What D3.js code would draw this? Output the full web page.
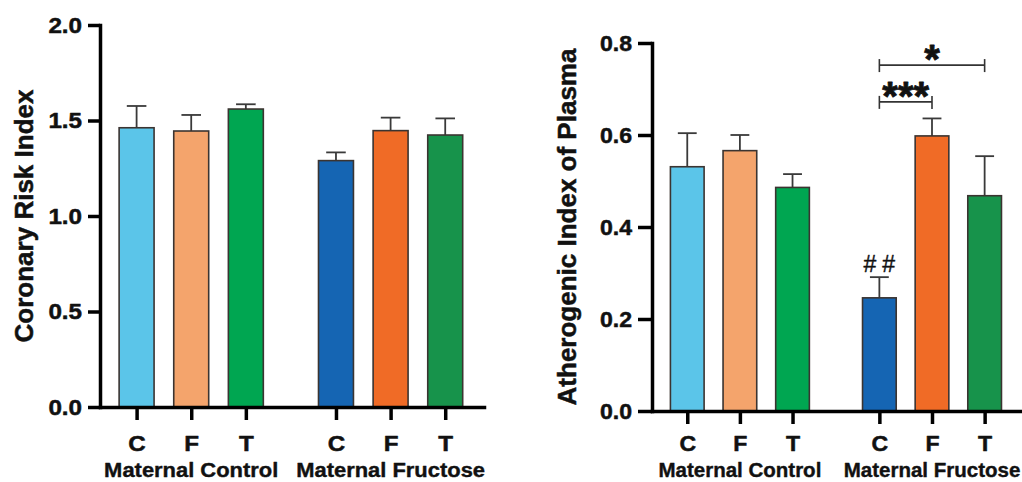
<!DOCTYPE html>
<html>
<head>
<meta charset="utf-8">
<script src="https://cdn.jsdelivr.net/npm/d3@7"></script>
<style>
  html, body { margin: 0; padding: 0; background: #ffffff; }
  svg { display: block; }
  text { font-family: "Liberation Sans", Arial, Helvetica, sans-serif; fill: #111; }
</style>
</head>
<body>
<svg id="chart" width="1022" height="482"></svg>
<script>
// ---------- data ----------
const categories = ["C", "F", "T", "C", "F", "T"];
const groups = ["Maternal Control", "Maternal Fructose"];
const groupIndex = [0, 0, 0, 1, 1, 1];
const barColors = ["#5BC5E9", "#F4A46C", "#00A651", "#1565B3", "#F06B26", "#17934B"];

const criValues = [1.462, 1.445, 1.560, 1.290, 1.447, 1.424];
const criErrors = [0.114, 0.084, 0.025, 0.043, 0.068, 0.087];
const criTicks = [0, 0.5, 1.0, 1.5, 2.0];
const criTitle = "Coronary Risk Index";

const aipValues = [0.531, 0.566, 0.486, 0.246, 0.598, 0.468];
const aipErrors = [0.073, 0.034, 0.029, 0.045, 0.038, 0.086];
const aipTicks = [0, 0.2, 0.4, 0.6, 0.8];
const aipTitle = "Atherogenic Index of Plasma";

// significance brackets (from bar index, to bar index, level in data units, label)
const aipBrackets = [
  { from: 3, to: 4, level: 0.672, label: "***" },
  { from: 3, to: 5, level: 0.752, label: "*" }
];
// marks above single bars
const aipMarks = [{ bar: 3, label: "##" }];

const svg = d3.select("#chart");
const groupGap = 0.65;

function heavy(sel, w) {
  return sel.style("stroke", "#111").style("stroke-width", w).style("paint-order", "stroke")
            .style("stroke-linejoin", "round");
}

function drawPanel(cfg) {
  const g = svg.append("g");
  const x = d3.scaleLinear().domain([-0.67, 6.36]).range(cfg.xRange);
  const y = d3.scaleLinear().domain([0, cfg.yMax]).range(cfg.yRange);
  const slots = categories.map((c, i) => i + groupIndex[i] * groupGap);
  const step = x(1) - x(0);
  const bw = step * 0.64;

  const data = categories.map((c, i) => ({
    cat: c, slot: slots[i], v: cfg.values[i], e: cfg.errors[i], color: barColors[i]
  }));

  // error bars
  const eb = g.append("g").attr("stroke", "#3a3a3a").attr("stroke-width", 1.8).attr("fill", "none");
  eb.selectAll("line.v").data(data).join("line").attr("class", "v")
    .attr("x1", d => x(d.slot)).attr("x2", d => x(d.slot))
    .attr("y1", d => y(d.v)).attr("y2", d => y(d.v + d.e));
  eb.selectAll("line.c").data(data).join("line").attr("class", "c")
    .attr("x1", d => x(d.slot) - bw * 0.28).attr("x2", d => x(d.slot) + bw * 0.28)
    .attr("y1", d => y(d.v + d.e)).attr("y2", d => y(d.v + d.e));

  // bars
  g.append("g").selectAll("rect").data(data).join("rect")
    .attr("x", d => x(d.slot) - bw / 2)
    .attr("width", bw)
    .attr("y", d => y(d.v))
    .attr("height", d => y(0) - y(d.v))
    .attr("fill", d => d.color)
    .attr("stroke", "#3b3431")
    .attr("stroke-width", 1.6);

  // y axis
  const ys = cfg.tickStretch;
  const yAxis = g.append("g")
    .attr("transform", `translate(${cfg.xRange[0]},0)`)
    .call(d3.axisLeft(y).tickValues(cfg.ticks).tickFormat(d3.format(".1f"))
      .tickSize(cfg.yTickSize).tickSizeOuter(0));
  yAxis.select(".domain").attr("stroke", "#000").attr("stroke-width", 3.5).attr("stroke-linecap", "square");
  yAxis.selectAll(".tick line").attr("stroke", "#000").attr("stroke-width", 3.5);
  heavy(yAxis.selectAll(".tick text")
    .attr("x", -cfg.yLabelGap / ys)
    .attr("transform", `scale(${ys},1)`)
    .style("font-size", "22px").style("font-weight", "bold").style("fill", "#111"), 0.5);

  // x axis
  const xAxis = g.append("g")
    .attr("transform", `translate(0,${y(0)})`)
    .call(d3.axisBottom(x).tickValues(slots).tickFormat((d, i) => categories[i])
      .tickSize(13).tickSizeOuter(0).tickPadding(cfg.xPad));
  xAxis.select(".domain").attr("stroke", "#000").attr("stroke-width", 3.5).attr("stroke-linecap", "square");
  xAxis.selectAll(".tick line").attr("stroke", "#000").attr("stroke-width", 3.5);
  heavy(xAxis.selectAll(".tick text")
    .attr("transform", `scale(${ys},1)`)
    .style("font-size", "22px").style("font-weight", "bold").style("fill", "#111"), 0.5);

  // group labels
  groups.forEach((name, gi) => {
    const idx = slots.filter((sl, i) => groupIndex[i] === gi);
    const cx = (x(d3.min(idx)) + x(d3.max(idx))) / 2;
    heavy(g.append("text")
      .attr("transform", `translate(${cx},${cfg.groupLabelY}) scale(${cfg.groupStretch},1)`)
      .attr("text-anchor", "middle")
      .style("font-size", "20.5px").style("font-weight", "bold")
      .text(name), 0.4);
  });

  // y title
  const cy = (cfg.yRange[0] + cfg.yRange[1]) / 2;
  heavy(g.append("text")
    .attr("transform", `translate(${cfg.titleX},${cy}) rotate(-90)`)
    .attr("text-anchor", "middle")
    .style("font-size", "26px").style("font-weight", "bold")
    .text(cfg.title), 0.5);

  // brackets
  (cfg.brackets || []).forEach(b => {
    const x1 = x(slots[b.from]), x2 = x(slots[b.to]), yy = y(b.level);
    const bg = g.append("g").attr("stroke", "#333").attr("stroke-width", 1.6);
    bg.append("line").attr("x1", x1).attr("x2", x2).attr("y1", yy).attr("y2", yy);
    bg.append("line").attr("x1", x1).attr("x2", x1).attr("y1", yy - 6).attr("y2", yy + 7);
    bg.append("line").attr("x1", x2).attr("x2", x2).attr("y1", yy - 6).attr("y2", yy + 7);
    heavy(g.append("text")
      .attr("x", (x1 + x2) / 2).attr("y", yy + 8)
      .attr("text-anchor", "middle")
      .style("font-size", "40px").style("font-weight", "bold")
      .text(b.label), 0.8);
  });

  // marks above bars
  (cfg.marks || []).forEach(m => {
    const d = data[m.bar];
    heavy(g.append("text")
      .attr("x", x(d.slot) + 3).attr("y", y(d.v + d.e) - 5)
      .attr("text-anchor", "middle")
      .style("font-size", "23px").style("letter-spacing", "6px")
      .text(m.label), 0.4);
  });
}

drawPanel({
  values: criValues, errors: criErrors, ticks: criTicks, yMax: 2.0, title: criTitle,
  xRange: [100, 484], yRange: [407, 25], tickStretch: 1.1, groupStretch: 1.07,
  yTickSize: 12, yLabelGap: 18, xPad: 15, groupLabelY: 476.5, titleX: 33
});

drawPanel({
  values: aipValues, errors: aipErrors, ticks: aipTicks, yMax: 0.8, title: aipTitle,
  xRange: [652, 1022], yRange: [411, 43], tickStretch: 1.05, groupStretch: 1.0,
  yTickSize: 14, yLabelGap: 20, xPad: 11, groupLabelY: 476.5, titleX: 576,
  brackets: aipBrackets, marks: aipMarks
});
</script>
</body>
</html>
